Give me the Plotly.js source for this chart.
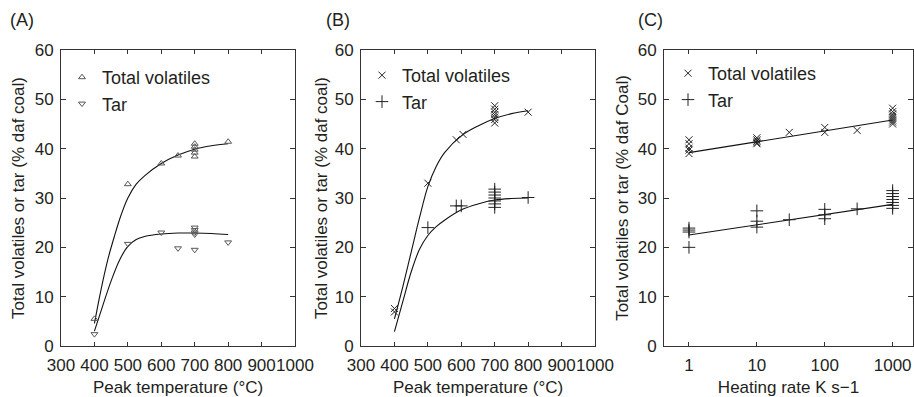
<!DOCTYPE html>
<html>
<head>
<meta charset="utf-8">
<script src="https://cdn.plot.ly/plotly-3.0.1.min.js"></script>
<style>html,body{margin:0;padding:0;background:#fff;}#chart{width:914px;height:397px;}</style>
</head>
<body>
<div id="chart"></div>
<script>
// ---------- Panel A data ----------
const aTempTotal = [400, 500, 600, 650, 700, 700, 700, 700, 700, 800];
const aTotal     = [5.5, 32.8, 37.0, 38.6, 41.0, 40.4, 39.8, 39.2, 38.4, 41.4];
const aTempTar   = [400, 500, 600, 650, 700, 700, 700, 700, 700, 800];
const aTar       = [2.4, 20.7, 23.0, 19.8, 24.0, 23.5, 23.0, 22.6, 19.5, 21.0];
const aTotalFitT = [400, 420, 440, 460, 480, 500, 525, 550, 600, 650, 700, 750, 800];
const aTotalFit  = [4.6, 11.5, 17.5, 22.3, 26.6, 30.0, 32.8, 34.5, 37.0, 38.7, 39.9, 40.6, 41.0];
const aTarFitT   = [400, 425, 450, 475, 500, 525, 550, 600, 650, 700, 750, 800];
const aTarFit    = [3.0, 8.2, 13.2, 17.4, 20.2, 21.6, 22.2, 22.7, 22.9, 22.9, 22.8, 22.6];

// ---------- Panel B data ----------
const bTempTotal = [400, 400, 500, 585, 605, 700, 700, 700, 700, 700, 700, 700, 800];
const bTotal     = [7.6, 6.9, 33.0, 41.8, 42.9, 48.7, 48.0, 47.4, 46.9, 46.4, 45.9, 45.2, 47.4];
const bTempTar   = [500, 585, 600, 700, 700, 700, 700, 700, 700, 700, 800];
const bTar       = [24.0, 28.4, 28.4, 31.8, 31.2, 30.6, 30.0, 29.4, 28.8, 28.1, 30.1];
const bTotalFitT = [400, 425, 450, 475, 500, 525, 550, 600, 650, 700, 750, 800];
const bTotalFit  = [5.5, 12.0, 19.0, 26.0, 32.3, 36.4, 39.2, 42.6, 44.6, 46.1, 47.1, 47.7];
const bTarFitT   = [400, 425, 450, 475, 500, 525, 550, 600, 650, 700, 750, 800];
const bTarFit    = [2.9, 9.0, 15.0, 19.6, 22.4, 24.2, 25.5, 27.6, 28.8, 29.6, 29.9, 30.0];

// ---------- Panel C data ----------
const cRateTotal = [1, 1, 1, 1, 1, 10, 10, 10, 10, 10, 30, 100, 100, 300, 1000, 1000, 1000, 1000, 1000, 1000, 1000, 1000];
const cTotal     = [41.8, 41.0, 40.1, 39.7, 39.0, 42.2, 41.8, 41.5, 41.2, 41.0, 43.3, 44.3, 43.3, 43.7, 48.2, 47.5, 47.0, 46.6, 46.2, 45.8, 45.4, 45.0];
const cRateTar   = [1, 1, 1, 1, 10, 10, 10, 30, 100, 100, 100, 300, 1000, 1000, 1000, 1000, 1000, 1000, 1000];
const cTar       = [23.9, 23.5, 23.1, 20.0, 27.4, 25.3, 24.1, 25.6, 27.7, 26.6, 25.8, 27.8, 31.5, 30.9, 30.3, 29.7, 29.1, 28.5, 27.9];
const cFitRate   = [1, 1000];
const cTotalFit  = [39.2, 45.8];
const cTarFit    = [22.5, 28.7];

// ---------- Labels ----------
const panelLabels = ['(A)', '(B)', '(C)'];
const xTitles = ['Peak temperature (°C)', 'Peak temperature (°C)', 'Heating rate K s\u22121'];
const yTitles = ['Total volatiles or tar (% daf coal)', 'Total volatiles or tar (% daf coal)', 'Total volatiles or tar (% daf Coal)'];
const tempTicks = [300, 400, 500, 600, 700, 800, 900, 1000];
const rateTicks = [1, 10, 100, 1000];
const rateTickText = ['1', '10', '100', '1000'];
const yTicks = [0, 10, 20, 30, 40, 50, 60];

const FONT = 'Liberation Sans, Arial, Helvetica, sans-serif';
const TXT = '#231f20';
const W = 914, H = 397;

function mk(sym, size, legend, name, x, y, xa, ya, col) {
  return {x: x, y: y, type: 'scatter', mode: 'markers', name: name, legend: legend,
    xaxis: xa, yaxis: ya,
    marker: {symbol: sym, size: size, color: col, line: {color: col, width: 1}}};
}
function fit(x, y, xa, ya, shape) {
  return {x: x, y: y, type: 'scatter', mode: 'lines', showlegend: false, xaxis: xa, yaxis: ya,
    line: {color: '#111', width: 1.1, shape: shape, smoothing: 1}, hoverinfo: 'skip'};
}

const traces = [
  fit(aTotalFitT, aTotalFit, 'x', 'y', 'spline'),
  fit(aTarFitT, aTarFit, 'x', 'y', 'spline'),
  mk('triangle-up-open', 6, 'legend', 'Total volatiles', aTempTotal, aTotal, 'x', 'y', '#555'),
  mk('triangle-down-open', 6, 'legend', 'Tar', aTempTar, aTar, 'x', 'y', '#555'),

  fit(bTotalFitT, bTotalFit, 'x2', 'y2', 'spline'),
  fit(bTarFitT, bTarFit, 'x2', 'y2', 'spline'),
  mk('x-thin-open', 7, 'legend2', 'Total volatiles', bTempTotal, bTotal, 'x2', 'y2', '#222'),
  mk('cross-thin-open', 9, 'legend2', 'Tar', bTempTar, bTar, 'x2', 'y2', '#222'),

  fit(cFitRate, cTotalFit, 'x3', 'y3', 'linear'),
  fit(cFitRate, cTarFit, 'x3', 'y3', 'linear'),
  mk('x-thin-open', 7, 'legend3', 'Total volatiles', cRateTotal, cTotal, 'x3', 'y3', '#222'),
  mk('cross-thin-open', 9, 'legend3', 'Tar', cRateTar, cTar, 'x3', 'y3', '#222')
];

const yDom = [51 / H, (H - 50) / H];
function xaxisBase(dom) {
  return {domain: dom, showline: true, linecolor: '#333', linewidth: 1, mirror: 'ticks',
    ticks: 'inside', ticklen: 4, tickcolor: '#333', showgrid: false, zeroline: false, tickangle: 0,
    tickfont: {family: FONT, size: 17, color: TXT}, ticklabelstandoff: 4,
    title: {font: {family: FONT, size: 17, color: TXT}, standoff: 8}};
}
function yaxisBase(anchor, title, standoff) {
  return {domain: yDom, anchor: anchor, range: [0, 60], tickvals: yTicks, showline: true, linecolor: '#333',
    linewidth: 1, mirror: 'ticks', ticks: 'inside', ticklen: 5, tickcolor: '#333', showgrid: false,
    zeroline: false, tickfont: {family: FONT, size: 17, color: TXT}, ticklabelstandoff: 3,
    title: {text: title, font: {family: FONT, size: 17, color: TXT}, standoff: standoff}};
}

const xa = xaxisBase([61 / W, 295 / W]);
xa.range = [300, 1000]; xa.tickvals = tempTicks; xa.anchor = 'y'; xa.title.text = xTitles[0];
const xb = xaxisBase([361 / W, 595 / W]);
xb.range = [300, 1000]; xb.tickvals = tempTicks; xb.anchor = 'y2'; xb.title.text = xTitles[1];
const xc = xaxisBase([664 / W, 913 / W]);
xc.type = 'log'; xc.range = [-0.368, 3.30]; xc.tickvals = rateTicks; xc.ticktext = rateTickText;
xc.anchor = 'y3'; xc.title.text = xTitles[2];

function legendAt(px, py) {
  return {x: px / W, y: 1 - py / H, xanchor: 'left', yanchor: 'top', bgcolor: 'rgba(0,0,0,0)',
    font: {family: FONT, size: 18, color: TXT}, itemwidth: 30, tracegroupgap: 0};
}

const layout = {
  width: W, height: H, margin: {l: 0, r: 0, t: 0, b: 0},
  paper_bgcolor: '#fff', plot_bgcolor: '#fff',
  font: {family: FONT, color: TXT},
  xaxis: xa, yaxis: yaxisBase('x', yTitles[0], 5),
  xaxis2: xb, yaxis2: yaxisBase('x2', yTitles[1], 2),
  xaxis3: xc, yaxis3: yaxisBase('x3', yTitles[2], 4),
  legend: legendAt(62, 59),
  legend2: legendAt(362, 57),
  legend3: legendAt(668, 55),
  annotations: [
    {text: panelLabels[0], x: 8 / W, y: 1 - 20 / H},
    {text: panelLabels[1], x: 324 / W, y: 1 - 20 / H},
    {text: panelLabels[2], x: 636 / W, y: 1 - 20 / H}
  ].map(a => Object.assign(a, {xref: 'paper', yref: 'paper', xanchor: 'left', yanchor: 'middle',
    showarrow: false, font: {family: FONT, size: 18, color: TXT}})),
  showlegend: true
};

Plotly.newPlot('chart', traces, layout, {staticPlot: true, displayModeBar: false});
</script>
</body>
</html>
